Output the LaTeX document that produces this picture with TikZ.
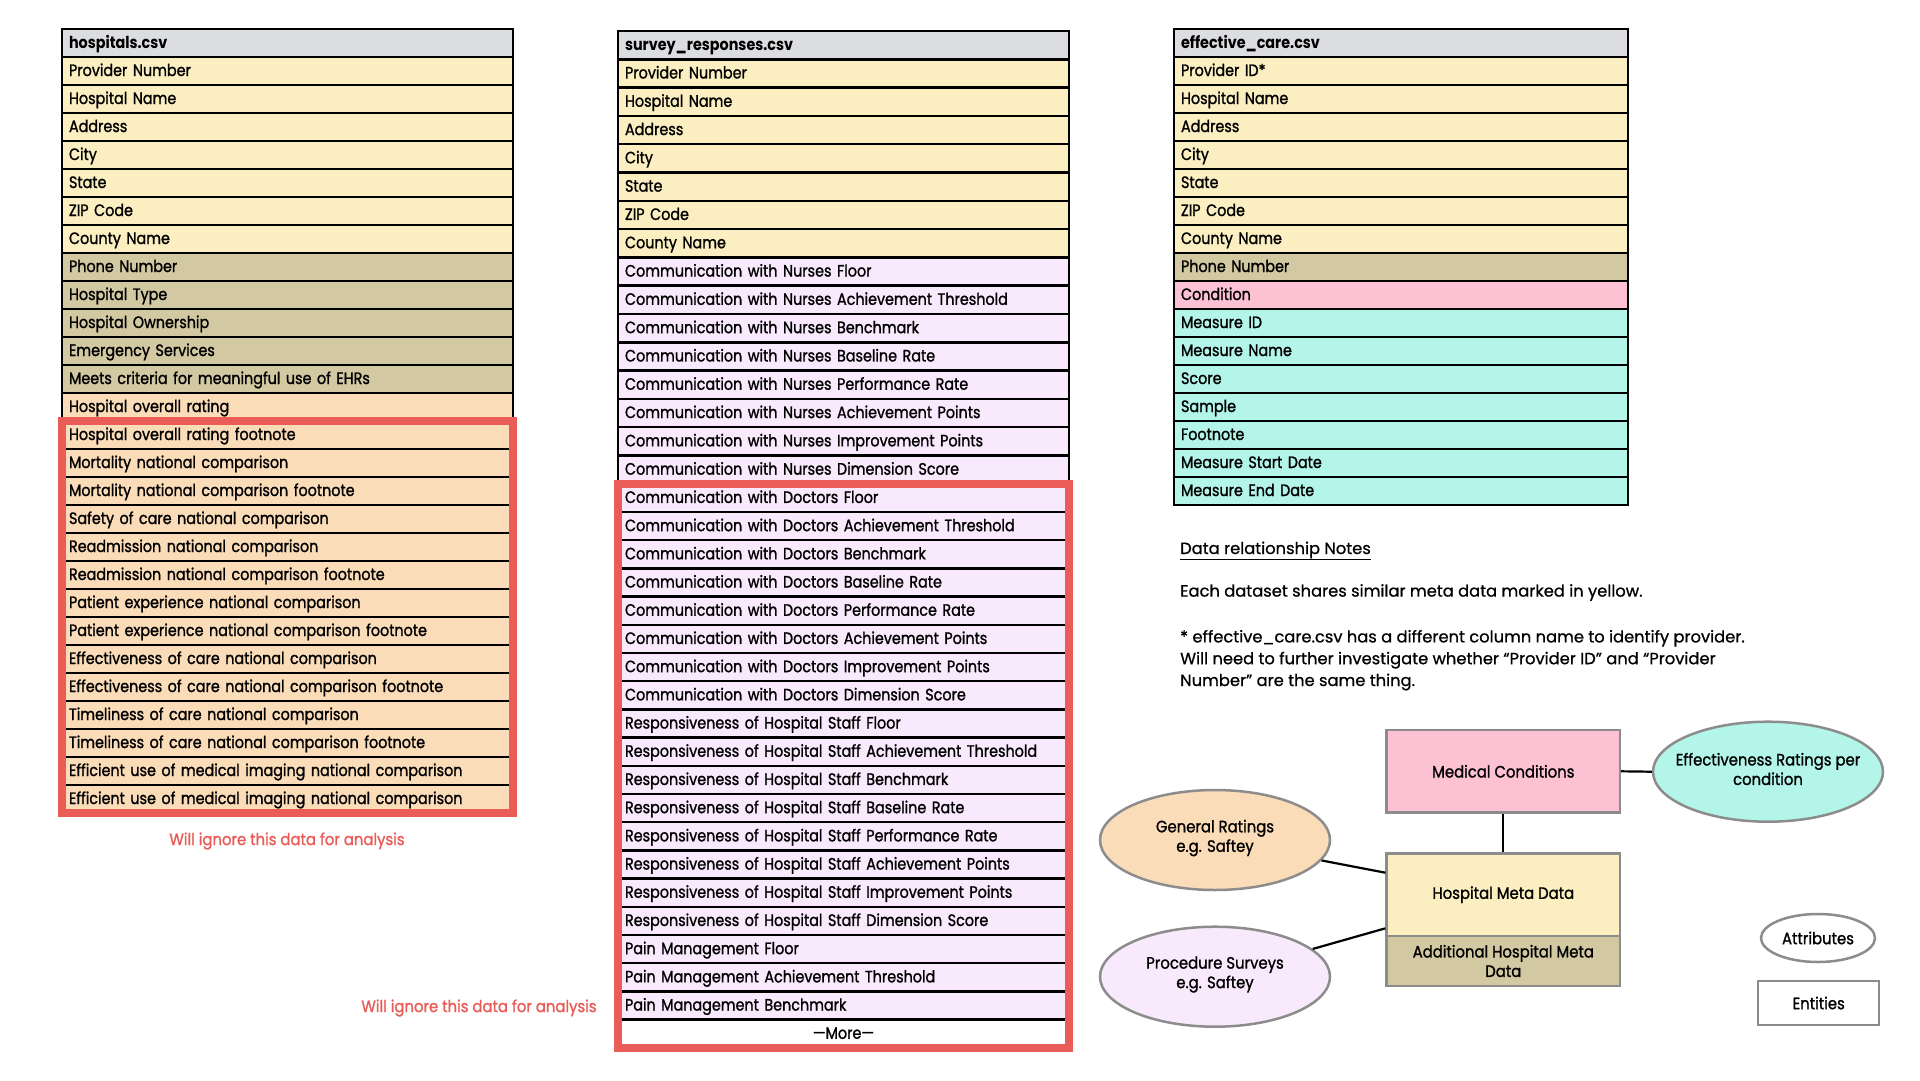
\documentclass[tikz,border=0pt]{standalone}
\usepackage{fontspec}
\setmainfont{Poppins}[FakeStretch=0.87, UprightFeatures={FakeBold=1.2}]
\newfontfamily\diagfont{Poppins}[FakeStretch=0.9, UprightFeatures={FakeBold=1.2}]
\newfontfamily\notesfont{Poppins}[UprightFeatures={FakeBold=0.8}]
\usetikzlibrary{shapes.geometric}
\definecolor{cHdr}{HTML}{DCDDE0}
\definecolor{cYel}{HTML}{FBEFC1}
\definecolor{cTan}{HTML}{D2C8A1}
\definecolor{cPch}{HTML}{FADCB8}
\definecolor{cLav}{HTML}{F9E9FC}
\definecolor{cPnk}{HTML}{FCC1D3}
\definecolor{cCyn}{HTML}{B3F5E8}
\definecolor{cRed}{HTML}{EA5C57}
\definecolor{cEdge}{HTML}{8C8C8C}
\newcommand\rfnt{\fontsize{16.5}{19.5}\selectfont}
\newcommand\dfnt{\diagfont\fontsize{16.5}{19.5}\selectfont}
\begin{document}
\begin{tikzpicture}[x=1pt,y=-1pt,
  row/.style={draw=black, line width=2.5pt, minimum height=28pt, inner xsep=7pt, inner ysep=0pt, outer sep=0pt,
    text width=437pt, align=left, text height=12pt, text depth=2pt, anchor=north west, font=\rfnt},
  srow/.style={row, minimum height=28.3pt},
  erow/.style={row, text width=440pt},
  rowhdr/.style={fill=cHdr, font=\rfnt\bfseries},
  rowyel/.style={fill=cYel},
  rowtan/.style={fill=cTan},
  rowpch/.style={fill=cPch},
  rowlav/.style={fill=cLav},
  rowpnk/.style={fill=cPnk},
  rowcyn/.style={fill=cCyn},
  rowwht/.style={fill=white, align=center},
  redbox/.style={draw=cRed, line width=7.5pt},
  redtext/.style={text=cRed, font=\dfnt, inner sep=0pt},
  ent/.style={draw=cEdge, line width=2.5pt, rectangle, inner sep=0pt, align=center, font=\dfnt},
  attr/.style={draw=cEdge, line width=2.5pt, ellipse, inner sep=0pt},
  attrtext/.style={inner sep=0pt, align=center, font=\dfnt},
  link/.style={draw=black, line width=2.2pt},
  notes/.style={inner sep=0pt, align=left, font={\notesfont\fontsize{16.3}{21.8}\selectfont}}
]
\useasboundingbox (0,0) rectangle (1920,1080);
\fill[white] (0,0) rectangle (1920,1080);

% hospitals.csv
\foreach \t/\s [count=\i from 0] in {
  hospitals.csv/rowhdr,
  Provider Number/rowyel, Hospital Name/rowyel, Address/rowyel, City/rowyel, State/rowyel, ZIP Code/rowyel, County Name/rowyel,
  Phone Number/rowtan, Hospital Type/rowtan, Hospital Ownership/rowtan, Emergency Services/rowtan, Meets criteria for meaningful use of EHRs/rowtan,
  Hospital overall rating/rowpch, Hospital overall rating footnote/rowpch, Mortality national comparison/rowpch,
  Mortality national comparison footnote/rowpch, Safety of care national comparison/rowpch, Readmission national comparison/rowpch,
  Readmission national comparison footnote/rowpch, Patient experience national comparison/rowpch,
  Patient experience national comparison footnote/rowpch, Effectiveness of care national comparison/rowpch,
  Effectiveness of care national comparison footnote/rowpch, Timeliness of care national comparison/rowpch,
  Timeliness of care national comparison footnote/rowpch, Efficient use of medical imaging national comparison/rowpch,
  Efficient use of medical imaging national comparison/rowpch}{
  \node[row, \s] (h\i) at (62, 29+28*\i) {\t};
}
\draw[redbox] (h14.north west) rectangle (h27.south east);
\node[redtext] (hnote) at (287,841) {Will ignore this data for analysis};

% survey_responses.csv
\foreach \t/\s [count=\i from 0] in {
  survey\_responses.csv/rowhdr,
  Provider Number/rowyel, Hospital Name/rowyel, Address/rowyel, City/rowyel, State/rowyel, ZIP Code/rowyel, County Name/rowyel,
  Communication with Nurses Floor/rowlav, Communication with Nurses Achievement Threshold/rowlav,
  Communication with Nurses Benchmark/rowlav, Communication with Nurses Baseline Rate/rowlav,
  Communication with Nurses Performance Rate/rowlav, Communication with Nurses Achievement Points/rowlav,
  Communication with Nurses Improvement Points/rowlav, Communication with Nurses Dimension Score/rowlav,
  Communication with Doctors Floor/rowlav, Communication with Doctors Achievement Threshold/rowlav,
  Communication with Doctors Benchmark/rowlav, Communication with Doctors Baseline Rate/rowlav,
  Communication with Doctors Performance Rate/rowlav, Communication with Doctors Achievement Points/rowlav,
  Communication with Doctors Improvement Points/rowlav, Communication with Doctors Dimension Score/rowlav,
  Responsiveness of Hospital Staff Floor/rowlav, Responsiveness of Hospital Staff Achievement Threshold/rowlav,
  Responsiveness of Hospital Staff Benchmark/rowlav, Responsiveness of Hospital Staff Baseline Rate/rowlav,
  Responsiveness of Hospital Staff Performance Rate/rowlav, Responsiveness of Hospital Staff Achievement Points/rowlav,
  Responsiveness of Hospital Staff Improvement Points/rowlav, Responsiveness of Hospital Staff Dimension Score/rowlav,
  Pain Management Floor/rowlav, Pain Management Achievement Threshold/rowlav, Pain Management Benchmark/rowlav,
  —More—/rowwht}{
  \node[srow, \s] (s\i) at (618, {31+28.3*min(\i,16)+28.2*max(\i-16,0)}) {\t};
}
\draw[redbox] (s16.north west) rectangle (s35.south east);
\node[redtext] (snote) at (479,1008) {Will ignore this data for analysis};

% effective_care.csv
\foreach \t/\s [count=\i from 0] in {
  effective\_care.csv/rowhdr,
  Provider ID*/rowyel, Hospital Name/rowyel, Address/rowyel, City/rowyel, State/rowyel, ZIP Code/rowyel, County Name/rowyel,
  Phone Number/rowtan, Condition/rowpnk,
  Measure ID/rowcyn, Measure Name/rowcyn, Score/rowcyn, Sample/rowcyn, Footnote/rowcyn,
  Measure Start Date/rowcyn, Measure End Date/rowcyn}{
  \node[erow, \s] (e\i) at (1174, 29+28*\i) {\t};
}

% notes
\node[notes, anchor=base west] (n1) at (1180,554) {\underline{Data relationship Notes}};
\node[notes, anchor=base west] (n2) at (1180,596.6) {Each dataset shares similar meta data marked in yellow.};
\node[notes, anchor=base west] (n3) at (1180,686) {* effective\_care.csv has a different column name to identify provider.\\
Will need to further investigate whether “Provider ID” and “Provider\\
Number” are the same thing.};

% ER diagram
\node[ent, fill=cPnk, minimum width=233.3pt, minimum height=82.7pt] (mc) at (1503.3,771.3) {Medical Conditions};
\node[ent, fill=cYel, minimum width=233.3pt, minimum height=82.7pt] (hmd) at (1503.3,894.7) {Hospital Meta Data};
\node[ent, fill=cTan, minimum width=233.3pt, minimum height=50pt] (ahmd) at (1503.3,961) {Additional Hospital Meta\\Data};
\node[attr, fill=cCyn, minimum width=230pt, minimum height=100pt] (eff) at (1768,771.7) {};
\node[attrtext] (efft) at (1768,769) {Effectiveness Ratings per\\condition};
\node[attr, fill=cPch, minimum width=230pt, minimum height=100pt] (gen) at (1215,840) {};
\node[attrtext] (gent) at (1215,838) {General Ratings\\e.g. Saftey};
\node[attr, fill=cLav, minimum width=230pt, minimum height=100pt] (proc) at (1215,976.7) {};
\node[attrtext] (proct) at (1215,974.5) {Procedure Surveys\\e.g. Saftey};
\node[attr, fill=white, minimum width=114pt, minimum height=48pt] (attrkey) at (1818,938) {};
\node[attrtext] (attrkeyt) at (1818,938) {Attributes};
\node[ent, fill=white, minimum width=121pt, minimum height=44pt] (entkey) at (1818.7,1003) {Entities};

\draw[link] (mc.south) -- (hmd.north);
\draw[link] (mc.east) -- (eff.west);
\draw[link] (gen) -- ([yshift=22pt]hmd.west);
\draw[link] (proc) -- ([yshift=-33.6pt]hmd.west);
\end{tikzpicture}
\end{document}
